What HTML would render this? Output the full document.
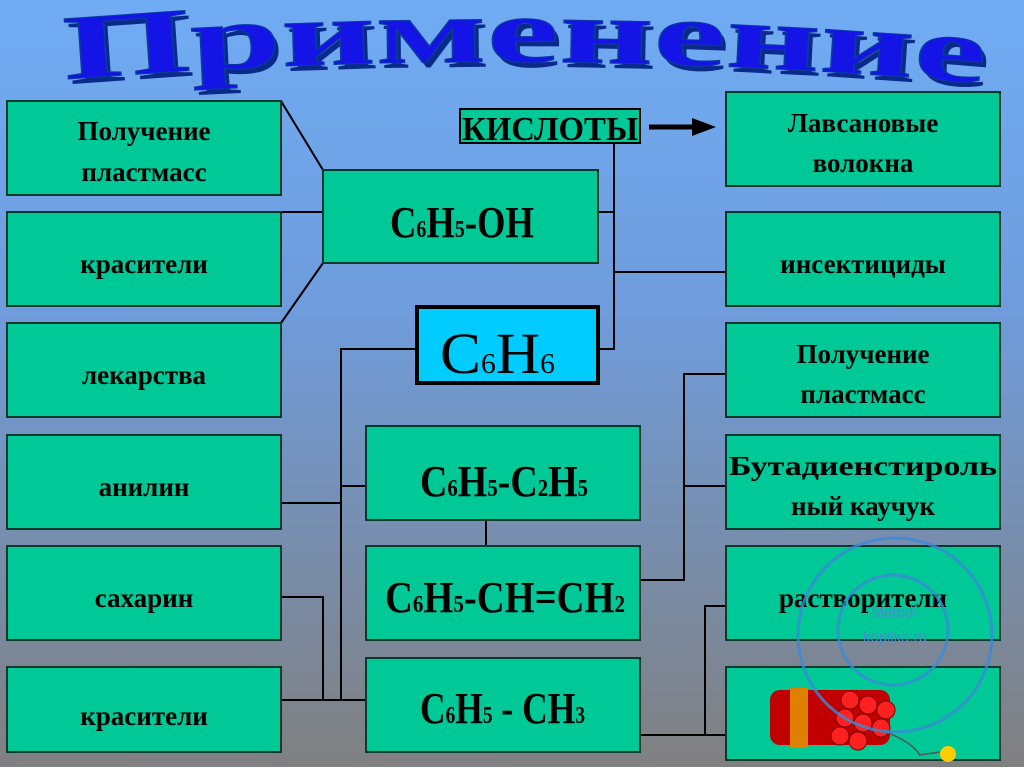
<!DOCTYPE html>
<html><head><meta charset="utf-8"><style>
html,body{margin:0;padding:0;}
body{width:1024px;height:767px;overflow:hidden;}
svg text{font-family:"Liberation Serif",serif;font-weight:bold;}
</style></head><body>
<svg width="1024" height="767" viewBox="0 0 1024 767" xmlns="http://www.w3.org/2000/svg">
<defs>
<linearGradient id="bg" x1="0" y1="0" x2="0" y2="1">
<stop offset="0" stop-color="#70acf4"/><stop offset="0.4" stop-color="#6f9cdc"/><stop offset="1" stop-color="#808080"/>
</linearGradient>
<path id="arc" d="M60 80 Q 520 42 990 84"/>
</defs>
<rect width="1024" height="767" fill="url(#bg)"/>
<text font-size="92" fill="#0a2a8a" transform="translate(4,5)"><textPath href="#arc" startOffset="50%" text-anchor="middle" textLength="920" lengthAdjust="spacingAndGlyphs">Применение</textPath></text>
<text font-size="92" fill="#1414e6" stroke="#0a3aa0" stroke-width="1"><textPath href="#arc" startOffset="50%" text-anchor="middle" textLength="920" lengthAdjust="spacingAndGlyphs">Применение</textPath></text>

<g stroke="#000" stroke-width="2" fill="none">
<line x1="281" y1="101" x2="323" y2="170"/>
<line x1="281" y1="212" x2="323" y2="212"/>
<line x1="323" y1="263" x2="281" y2="323"/>
<polyline points="417,349 341,349 341,700"/>
<line x1="341" y1="486" x2="366" y2="486"/>
<line x1="281" y1="503" x2="341" y2="503"/>
<polyline points="281,597 323,597 323,700"/>
<line x1="281" y1="700" x2="366" y2="700"/>
<polyline points="614,143 614,349 598,349"/>
<line x1="598" y1="212" x2="614" y2="212"/>
<line x1="614" y1="272" x2="726" y2="272"/>
<polyline points="726,374 684,374 684,580 640,580"/>
<line x1="684" y1="486" x2="726" y2="486"/>
<polyline points="726,606 705,606 705,735"/>
<line x1="640" y1="735" x2="726" y2="735"/>
<line x1="486" y1="520" x2="486" y2="546"/>
</g>
<line x1="649" y1="127" x2="695" y2="127" stroke="#000" stroke-width="5"/>
<polygon points="692,118 716,127 692,136" fill="#000"/>

<g fill="#00c896" stroke="#0c3a2a" stroke-width="2">
<rect x="7" y="101" width="274" height="94"/>
<rect x="7" y="212" width="274" height="94"/>
<rect x="7" y="323" width="274" height="94"/>
<rect x="7" y="435" width="274" height="94"/>
<rect x="7" y="546" width="274" height="94"/>
<rect x="7" y="667" width="274" height="85"/>
<rect x="726" y="92" width="274" height="94"/>
<rect x="726" y="212" width="274" height="94"/>
<rect x="726" y="323" width="274" height="94"/>
<rect x="726" y="435" width="274" height="94"/>
<rect x="726" y="546" width="274" height="94"/>
<rect x="726" y="667" width="274" height="93"/>
<rect x="323" y="170" width="275" height="93"/>
<rect x="366" y="426" width="274" height="94"/>
<rect x="366" y="546" width="274" height="94"/>
<rect x="366" y="658" width="274" height="94"/>
<rect x="460" y="109" width="180" height="34" stroke="#000"/>
</g>
<rect x="417" y="307" width="181" height="76" fill="#00ccff" stroke="#000" stroke-width="4"/>

<g font-size="27" fill="#000" text-anchor="middle">
<text x="144" y="140">Получение</text><text x="144" y="181">пластмасс</text>
<text x="144" y="273">красители</text>
<text x="144" y="384">лекарства</text>
<text x="144" y="496">анилин</text>
<text x="144" y="607">сахарин</text>
<text x="144" y="725">красители</text>
<text x="863" y="132">Лавсановые</text><text x="863" y="172">волокна</text>
<text x="863" y="273">инсектициды</text>
<text x="863" y="363">Получение</text><text x="863" y="403">пластмасс</text>
<text x="863" y="475" textLength="268" lengthAdjust="spacingAndGlyphs">Бутадиенстироль</text><text x="863" y="515">ный каучук</text>
<text x="863" y="607">растворители</text>
<text x="550" y="140" font-size="34" textLength="176" lengthAdjust="spacingAndGlyphs">КИСЛОТЫ</text>
</g>
<g fill="#000" font-size="44">
<text x="390" y="237" textLength="144" lengthAdjust="spacingAndGlyphs">C<tspan font-size="24">6</tspan>H<tspan font-size="24">5</tspan>-OH</text>
<text x="420" y="496" textLength="168" lengthAdjust="spacingAndGlyphs">C<tspan font-size="24">6</tspan>H<tspan font-size="24">5</tspan>-C<tspan font-size="24">2</tspan>H<tspan font-size="24">5</tspan></text>
<text x="385" y="612" textLength="240" lengthAdjust="spacingAndGlyphs">C<tspan font-size="24">6</tspan>H<tspan font-size="24">5</tspan>-CH=CH<tspan font-size="24">2</tspan></text>
<text x="420" y="723" textLength="165" lengthAdjust="spacingAndGlyphs">C<tspan font-size="24">6</tspan>H<tspan font-size="24">5</tspan> - CH<tspan font-size="24">3</tspan></text>
<text x="440" y="373" font-size="58" style="font-weight:normal" textLength="115" lengthAdjust="spacingAndGlyphs">C<tspan font-size="28">6</tspan>H<tspan font-size="28">6</tspan></text>
</g>
<g>
<rect x="770" y="690" width="120" height="55" rx="10" fill="#c00000"/>
<rect x="790" y="688" width="18" height="60" fill="#e08000"/>
<g fill="#ff2020" stroke="#800000" stroke-width="1">
<circle cx="850" cy="700" r="9"/><circle cx="868" cy="705" r="9"/><circle cx="886" cy="710" r="9"/>
<circle cx="845" cy="718" r="9"/><circle cx="863" cy="723" r="9"/><circle cx="881" cy="728" r="9"/>
<circle cx="840" cy="736" r="9"/><circle cx="858" cy="741" r="9"/>
</g>
<path d="M880 730 Q910 740 920 755 L940 752" stroke="#555" fill="none" stroke-width="1.5"/>
<circle cx="948" cy="754" r="8" fill="#ffcc00"/>
</g>
<g fill="none" stroke="#3a8ad8" stroke-width="3" opacity="0.8">
<ellipse cx="895" cy="635" rx="97" ry="97"/>
<ellipse cx="893" cy="630" rx="55" ry="55"/>
</g>
<text x="895" y="617" font-size="15" fill="#4a8ad0" text-anchor="middle" style="font-family:'Liberation Sans',sans-serif;font-weight:normal">Metod-</text>
<text x="895" y="642" font-size="15" fill="#4a8ad0" text-anchor="middle" style="font-family:'Liberation Sans',sans-serif;font-weight:normal">kopilka.ru</text>
</svg>
</body></html>
